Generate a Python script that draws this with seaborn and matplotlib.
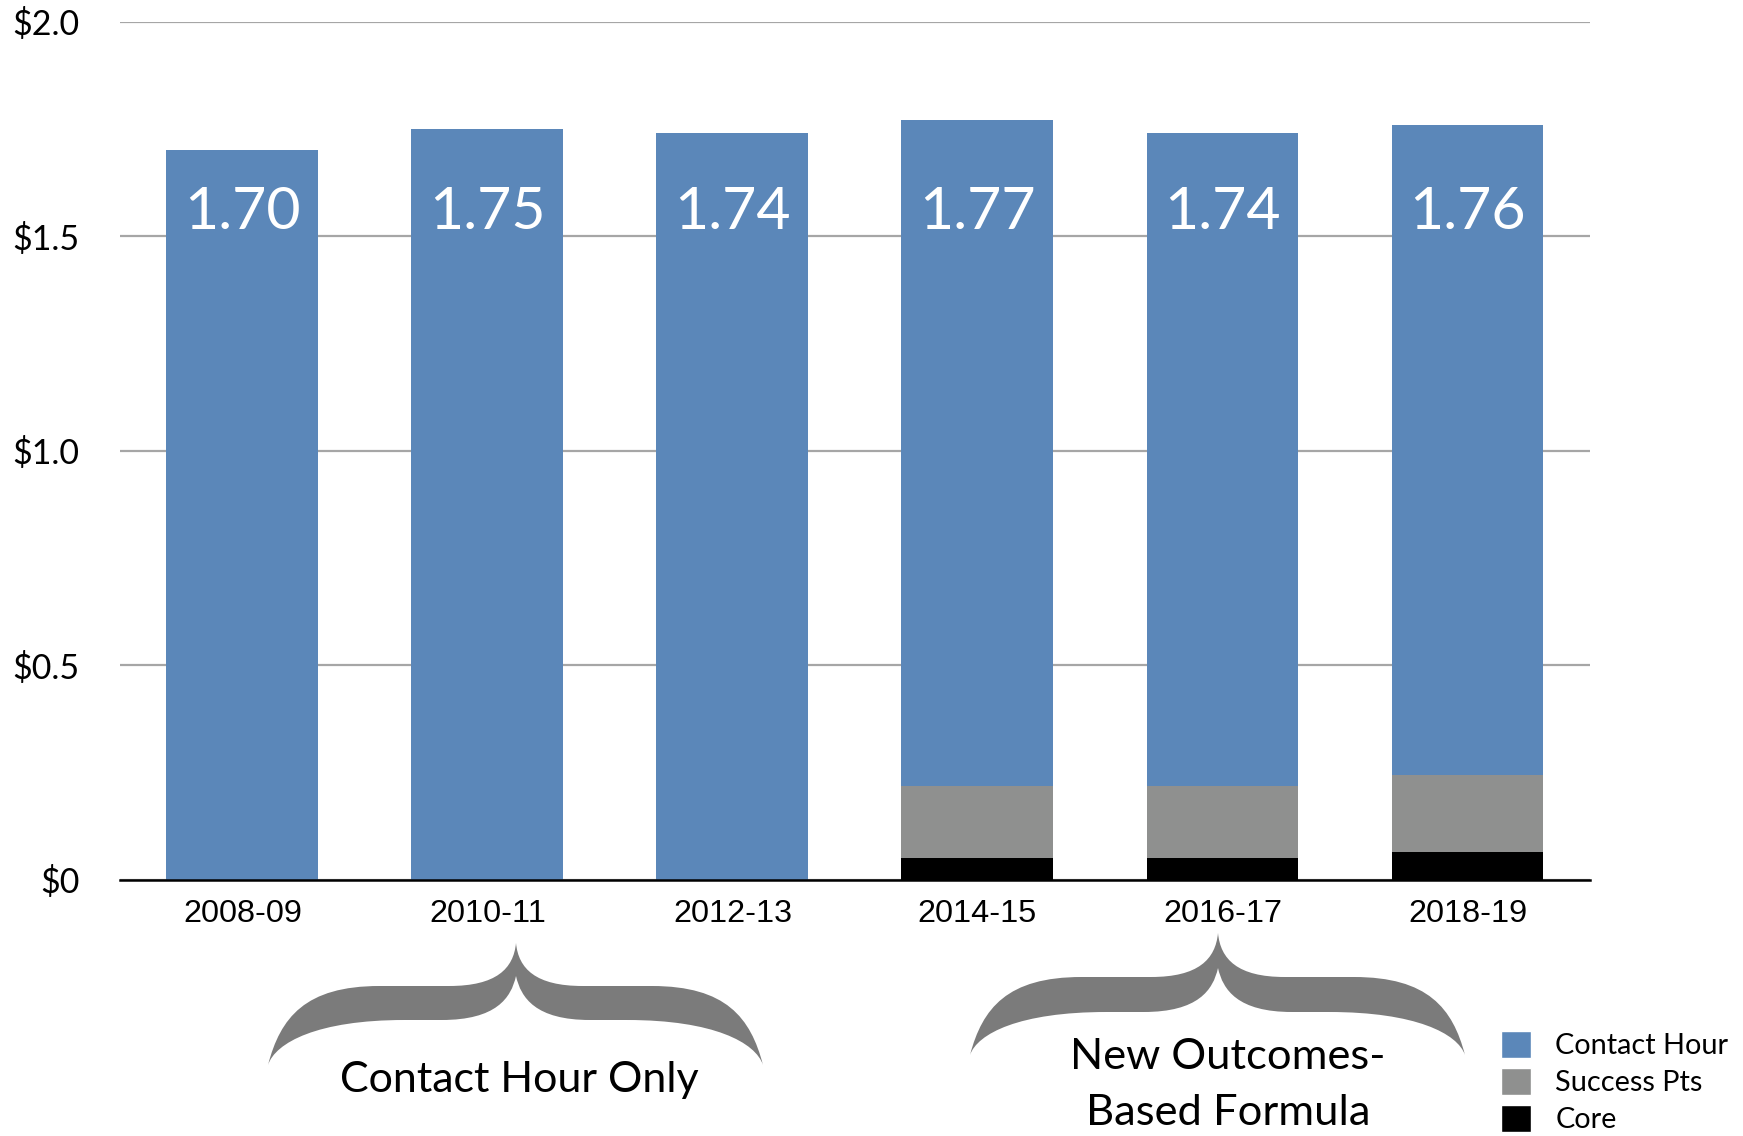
import numpy as np
import pandas as pd
import matplotlib
matplotlib.use("Agg")
import matplotlib.pyplot as plt
from matplotlib.path import Path
from matplotlib.patches import PathPatch, Patch
import seaborn as sns

# -------------------------------
# Data
# -------------------------------
years = ["2008-09", "2010-11", "2012-13", "2014-15", "2016-17", "2018-19"]
contact_hour = [1.70, 1.75, 1.74, 1.55, 1.52, 1.515]
success_pts = [0.0, 0.0, 0.0, 0.17, 0.17, 0.18]
core = [0.0, 0.0, 0.0, 0.05, 0.05, 0.065]
y_ticks = [0.0, 0.5, 1.0, 1.5, 2.0]
y_tick_labels = ["$0", "$0.5", "$1.0", "$1.5", "$2.0"]
group_labels = ["Contact Hour Only", "New Outcomes-\nBased Formula"]

BLUE = "#5B87B9"
GRAY = "#8F908F"
BLACK = "#000000"

df = pd.DataFrame({
    "Year": years,
    "Contact Hour": contact_hour,
    "Success Pts": success_pts,
    "Core": core,
})
# cumulative heights for stacked look
df["Total"] = df["Contact Hour"] + df["Success Pts"] + df["Core"]
df["Lower"] = df["Success Pts"] + df["Core"]

# -------------------------------
# Figure
# -------------------------------
sns.set_style("white")
plt.rcParams["font.family"] = ["Lato", "DejaVu Sans"]
plt.rcParams["text.color"] = "black"
plt.rcParams["xtick.color"] = "black"
plt.rcParams["ytick.color"] = "black"

fig = plt.figure(figsize=(17.43, 11.36), dpi=100)
ax = fig.add_axes([0.0688, 0.2254, 0.8434, 0.7555])

sns.barplot(data=df, x="Year", y="Total", color=BLUE, width=0.62,
            linewidth=0, saturation=1, ax=ax)
sns.barplot(data=df, x="Year", y="Lower", color=GRAY, width=0.62,
            linewidth=0, saturation=1, ax=ax)
sns.barplot(data=df, x="Year", y="Core", color=BLACK, width=0.62,
            linewidth=0, saturation=1, ax=ax)

ax.set_xlim(-0.5, 5.5)
ax.set_ylim(0, 2.0)
ax.set_yticks(y_ticks)
ax.set_yticklabels(y_tick_labels)
ax.set_xlabel("")
ax.set_ylabel("")
ax.yaxis.grid(True, color="#A6A6A6", linewidth=1.6)
ax.set_axisbelow(True)
for s in ["left", "right", "top"]:
    ax.spines[s].set_visible(False)
ax.spines["bottom"].set_color("black")
ax.spines["bottom"].set_linewidth(1.8)
ax.spines["bottom"].set_zorder(5)
ax.tick_params(axis="y", length=0, pad=29, labelsize=24.5, labelcolor="black")
ax.tick_params(axis="x", length=0, pad=14, labelsize=23.3, labelcolor="black")
for lbl in ax.get_xticklabels():
    lbl.set_fontfamily("Liberation Sans")

# value labels inside bars
for i, t in enumerate(df["Total"]):
    ax.text(i, 1.555, f"{t:.2f}", color="white", fontsize=42.5,
            ha="center", va="center")

# -------------------------------
# Braces + group labels (overlay in pixel coords)
# -------------------------------
ov = fig.add_axes([0, 0, 1, 1], facecolor="none")
ov.set_xlim(0, 1743)
ov.set_ylim(1136, 0)
ov.axis("off")


def brace(x0, x1, xm, yend, ytop, ybot, tip, inner):
    w = xm - x0
    w2 = x1 - xm
    h = yend - ytop
    verts = [
        (x0, yend),
        (x0 + 0.05 * w, yend - 0.6 * h), (x0 + 0.15 * w, ytop), (x0 + 0.45 * w, ytop),
        (xm - 0.27 * w, ytop),
        (xm - 0.08 * w, ytop), (xm - 0.01 * w, ytop - 0.4 * (ytop - tip)), (xm, tip),
        (xm + 0.01 * w2, ytop - 0.4 * (ytop - tip)), (xm + 0.08 * w2, ytop), (xm + 0.27 * w2, ytop),
        (x1 - 0.45 * w2, ytop),
        (x1 - 0.15 * w2, ytop), (x1 - 0.05 * w2, yend - 0.6 * h), (x1, yend),
        (x1 - 0.03 * w2, ybot + 0.5 * (yend - ybot)), (x1 - 0.2 * w2, ybot), (x1 - 0.55 * w2, ybot),
        (xm + 0.3 * w2, ybot),
        (xm + 0.08 * w2, ybot), (xm + 0.02 * w2, inner + 0.5 * (ybot - inner)), (xm, inner),
        (xm - 0.02 * w, inner + 0.5 * (ybot - inner)), (xm - 0.08 * w, ybot), (xm - 0.3 * w, ybot),
        (x0 + 0.55 * w, ybot),
        (x0 + 0.2 * w, ybot), (x0 + 0.03 * w, ybot + 0.5 * (yend - ybot)), (x0, yend),
        (x0, yend),
    ]
    codes = [Path.MOVETO,
             Path.CURVE4, Path.CURVE4, Path.CURVE4,
             Path.LINETO,
             Path.CURVE4, Path.CURVE4, Path.CURVE4,
             Path.CURVE4, Path.CURVE4, Path.CURVE4,
             Path.LINETO,
             Path.CURVE4, Path.CURVE4, Path.CURVE4,
             Path.CURVE4, Path.CURVE4, Path.CURVE4,
             Path.LINETO,
             Path.CURVE4, Path.CURVE4, Path.CURVE4,
             Path.CURVE4, Path.CURVE4, Path.CURVE4,
             Path.LINETO,
             Path.CURVE4, Path.CURVE4, Path.CURVE4,
             Path.CLOSEPOLY]
    ov.add_patch(PathPatch(Path(verts, codes), facecolor="#7B7B7B",
                           edgecolor="none"))


brace(268, 763, 516, 1065, 986, 1020, 943, 976)
brace(970, 1465, 1218, 1055, 977, 1012, 933, 968)

ov.text(519, 1080, group_labels[0], fontsize=31, ha="center", va="center")
ov.text(1228, 1085, group_labels[1], fontsize=31.3, ha="center", va="center",
        linespacing=1.6)

# -------------------------------
# Legend
# -------------------------------
handles = [Patch(facecolor=BLUE, label="Contact Hour"),
           Patch(facecolor=GRAY, label="Success Pts"),
           Patch(facecolor=BLACK, label="Core")]
fig.legend(handles=handles, loc="lower left",
           bbox_to_anchor=(0.8597, 0.0), bbox_transform=fig.transFigure,
           frameon=False, fontsize=20.8, handlelength=1.04, handleheight=1.04,
           handletextpad=0.83, labelspacing=0.3, borderpad=0.1,
           borderaxespad=0)

fig.savefig("out.png", dpi=100)
